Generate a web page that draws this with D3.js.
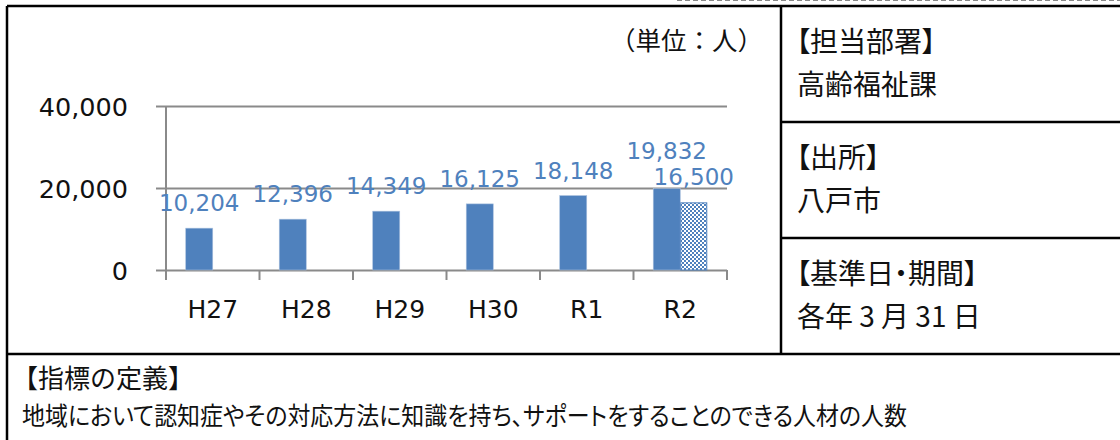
<!DOCTYPE html>
<html>
  <head>
    <meta charset="utf-8" />
    <title>認知症サポーター数</title>
    <style>
      body {
        margin: 0;
        background: #fff;
      }
      .jp {
        font-family: "Noto Sans CJK JP", sans-serif;
        fill: #111;
      }
      .palt {
        font-feature-settings: "palt";
      }
      .num {
        font-family: "DejaVu Sans", Verdana, sans-serif;
        fill: #111;
      }
      .grid line,
      .tick-marks line {
        stroke: #8a8a8a;
        stroke-width: 2px;
      }
      .frame {
        stroke: #000;
        stroke-width: 2.5px;
      }
    </style>
  </head>
  <body>
    <svg width="1120" height="440"></svg>

    <script src="https://d3js.org/d3.v7.min.js"></script>
    <script>
      // Data
      const categories = ["H27", "H28", "H29", "H30", "R1", "R2"];
      const actual = [10204, 12396, 14349, 16125, 18148, 19832];
      const target = [null, null, null, null, null, 16500];
      const yTicks = [0, 20000, 40000];

      const unitText = "（単位：人）";
      const sideBlocks = [
        ["【担当部署】", "高齢福祉課"],
        ["【出所】", "八戸市"],
        ["【基準日・期間】", "各年 3 月 31 日"],
      ];
      const defTitle = "【指標の定義】";
      const defText =
        "地域において認知症やその対応方法に知識を持ち、サポートをすることのできる人材の人数";

      const blue = "#4f81bd";
      const svg = d3.select("svg");

      // pattern for the second series
      const pat = svg
        .append("defs")
        .append("pattern")
        .attr("id", "checker")
        .attr("width", 4)
        .attr("height", 4)
        .attr("patternUnits", "userSpaceOnUse");
      pat.append("rect").attr("width", 4).attr("height", 4).attr("fill", "#fff");
      pat.append("rect").attr("width", 2).attr("height", 2).attr("fill", blue);
      pat
        .append("rect")
        .attr("x", 2)
        .attr("y", 2)
        .attr("width", 2)
        .attr("height", 2)
        .attr("fill", blue);

      // frame
      svg
        .append("line")
        .attr("x1", 677)
        .attr("x2", 1120)
        .attr("y1", 0.5)
        .attr("y2", 0.5)
        .attr("stroke", "#888")
        .attr("stroke-width", 1)
        .attr("stroke-dasharray", "5,3");

      const frame = svg.append("g").attr("class", "frame");
      frame.append("line").attr("x1", 7).attr("x2", 1120).attr("y1", 6).attr("y2", 6);
      frame.append("line").attr("x1", 7).attr("x2", 7).attr("y1", 6).attr("y2", 440);
      frame.append("line").attr("x1", 781).attr("x2", 781).attr("y1", 6).attr("y2", 354);
      frame.append("line").attr("x1", 781).attr("x2", 1120).attr("y1", 122).attr("y2", 122);
      frame.append("line").attr("x1", 781).attr("x2", 1120).attr("y1", 238).attr("y2", 238);
      frame.append("line").attr("x1", 7).attr("x2", 1120).attr("y1", 354).attr("y2", 354);

      // side panel
      const side = svg.append("g");
      sideBlocks.forEach((b, i) => {
        const top = 6 + i * 116;
        side
          .append("text")
          .attr("class", "jp palt")
          .attr("x", 796)
          .attr("y", top + 46)
          .attr("font-size", 28)
          .text(b[0]);
        side
          .append("text")
          .attr("class", "jp palt")
          .attr("x", 797)
          .attr("y", top + 89)
          .attr("font-size", 28)
          .text(b[1]);
      });

      // definition
      svg
        .append("text")
        .attr("class", "jp")
        .attr("x", 12)
        .attr("y", 388)
        .attr("font-size", 26)
        .text(defTitle);
      svg
        .append("text")
        .attr("class", "jp palt")
        .attr("x", 22)
        .attr("y", 425)
        .attr("font-size", 25)
        .attr("textLength", 885)
        .attr("lengthAdjust", "spacingAndGlyphs")
        .text(defText);

      // unit
      svg
        .append("text")
        .attr("class", "jp")
        .attr("x", 763)
        .attr("y", 50)
        .attr("text-anchor", "end")
        .attr("font-size", 25.5)
        .text(unitText);

      // chart
      const x = d3.scaleBand().domain(categories).range([166, 727]);
      const xs = d3
        .scaleBand()
        .domain(["actual", "target"])
        .range([0, x.bandwidth()])
        .paddingOuter(0.73);
      const y = d3.scaleLinear().domain([0, 40000]).range([270, 106]);

      const chart = svg.append("g");

      // gridlines
      chart
        .append("g")
        .attr("class", "grid")
        .attr("transform", "translate(166,0)")
        .call(d3.axisLeft(y).tickValues(yTicks).tickSize(-(727 - 166)).tickFormat(""))
        .call((g) => g.select(".domain").remove());

      // y axis labels and outer ticks
      chart
        .append("g")
        .attr("class", "grid")
        .attr("transform", "translate(166,0)")
        .call(
          d3
            .axisLeft(y)
            .tickValues(yTicks)
            .tickSize(10)
            .tickPadding(28)
            .tickFormat(d3.format(","))
        )
        .call((g) => g.select(".domain").remove())
        .call((g) =>
          g
            .selectAll("text")
            .attr("class", "num")
            .attr("font-size", 25.5)
            .attr("dy", "0.36em")
        );

      // y axis line
      chart
        .append("line")
        .attr("x1", 166)
        .attr("x2", 166)
        .attr("y1", y(40000))
        .attr("y2", y(0) + 10)
        .attr("stroke", "#8a8a8a")
        .attr("stroke-width", 2);

      // x axis ticks at band edges
      const edges = categories.map((c) => x(c)).concat([x.range()[1]]);
      chart
        .append("g")
        .attr("class", "tick-marks")
        .selectAll("line")
        .data(edges)
        .join("line")
        .attr("x1", (d) => d)
        .attr("x2", (d) => d)
        .attr("y1", y(0))
        .attr("y2", y(0) + 10);

      // x labels
      chart
        .append("g")
        .attr("transform", `translate(0,${y(0)})`)
        .call(d3.axisBottom(x).tickSize(0).tickPadding(30))
        .call((g) => g.select(".domain").remove())
        .call((g) =>
          g.selectAll("text").attr("class", "num").attr("font-size", 25)
        );

      // bars
      const rows = categories.map((c, i) => ({
        cat: c,
        actual: actual[i],
        target: target[i],
      }));

      const barW = xs.bandwidth();
      chart
        .append("g")
        .selectAll("rect")
        .data(rows)
        .join("rect")
        .attr("x", (d) => x(d.cat) + xs("actual"))
        .attr("y", (d) => y(d.actual))
        .attr("width", barW)
        .attr("height", (d) => y(0) - y(d.actual))
        .attr("fill", blue)
        .attr("stroke", "#a9c0de")
        .attr("stroke-width", 0.6);

      chart
        .append("g")
        .selectAll("rect")
        .data(rows.filter((d) => d.target != null))
        .join("rect")
        .attr("x", (d) => x(d.cat) + xs("target") + 0.5)
        .attr("y", (d) => y(d.target) + 0.5)
        .attr("width", barW - 1)
        .attr("height", (d) => y(0) - y(d.target) - 0.5)
        .attr("fill", "url(#checker)")
        .attr("stroke", blue)
        .attr("stroke-width", 1);

      // data labels
      const lift = 17;
      const labels = [];
      rows.forEach((d) => {
        let ty = null;
        if (d.target != null) {
          ty = y(d.target) - lift;
          labels.push({ x: x(d.cat) + xs("target") + barW / 2, y: ty, v: d.target });
        }
        let ay = y(d.actual) - lift;
        if (ty != null) ay = Math.min(ay, ty - 26);
        labels.push({ x: x(d.cat) + xs("actual") + barW / 2, y: ay, v: d.actual });
      });

      chart
        .append("g")
        .selectAll("text")
        .data(labels)
        .join("text")
        .attr("class", "num")
        .attr("x", (d) => d.x)
        .attr("y", (d) => d.y)
        .attr("text-anchor", "middle")
        .attr("font-size", 23)
        .style("fill", blue)
        .text((d) => d3.format(",")(d.v));
    </script>
  </body>
</html>
